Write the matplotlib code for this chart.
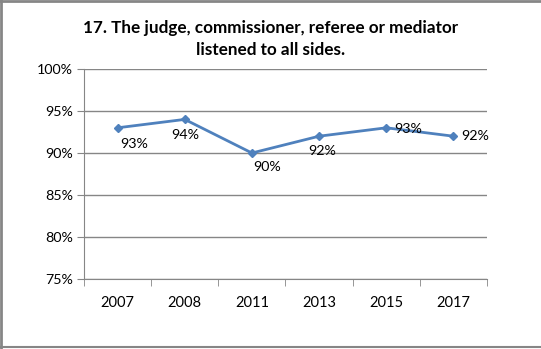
import matplotlib
matplotlib.use("Agg")
import matplotlib.pyplot as plt
from matplotlib.lines import Line2D

years = ["2007", "2008", "2011", "2013", "2015", "2017"]
values = [93, 94, 90, 92, 93, 92]
labels = ["93%", "94%", "90%", "92%", "93%", "92%"]
# label offsets in points (dx, dy)
label_offsets = [(12, -12), (0, -11), (11, -10), (2, -11), (16, -1), (16, 0)]

W, H = 541, 349
fig = plt.figure(figsize=(W / 100, H / 100), dpi=100)
plt.rcParams["font.family"] = ["Lato", "DejaVu Sans"]

left, right, top, bottom = 84, 487, 69, 279
ax = fig.add_axes([left / W, 1 - bottom / H, (right - left) / W, (bottom - top) / H])

x = list(range(len(years)))
line_color = "#4F81BD"
ax.plot(x, values, color=line_color, lw=2, marker="D", ms=4.5, zorder=3)

for xi, v, lab, (dx, dy) in zip(x, values, labels, label_offsets):
    ax.annotate(lab, (xi, v), xytext=(dx, dy), textcoords="offset points",
                ha="center", va="center", fontsize=10.3, color="black", zorder=4)

ax.set_xlim(-0.5, len(years) - 0.5)
ax.set_ylim(75, 100)
ax.set_yticks([75, 80, 85, 90, 95, 100])
ax.set_yticklabels([f"{t}%" for t in [75, 80, 85, 90, 95, 100]])
ax.set_xticks(x)
ax.set_xticklabels(years)
ax.set_xticks([i - 0.5 for i in range(len(years) + 1)], minor=True)

grid_c = "#868686"
ax.grid(axis="y", color=grid_c, lw=1)
ax.set_axisbelow(True)
for s in ["top", "right"]:
    ax.spines[s].set_visible(False)
ax.spines["left"].set_color(grid_c)
ax.spines["bottom"].set_color(grid_c)
ax.tick_params(axis="x", which="major", length=0, pad=12, labelsize=10.5)
ax.tick_params(axis="x", which="minor", length=5, color=grid_c, direction="out")
ax.tick_params(axis="y", length=5, color=grid_c, pad=3, labelsize=10.3)

fig.text(271 / W, 1 - 39 / H, "17. The judge, commissioner, referee or mediator\nlistened to all sides.",
         ha="center", va="center", fontsize=12.3, fontweight="bold", linespacing=1.45)

# chart frame
fig.add_artist(Line2D([0, 1], [1 - 1 / H, 1 - 1 / H], transform=fig.transFigure, color=grid_c, lw=2))
fig.add_artist(Line2D([1 / W, 1 / W], [0, 1], transform=fig.transFigure, color=grid_c, lw=2))
fig.add_artist(Line2D([0, 1], [1 - 347 / H, 1 - 347 / H], transform=fig.transFigure, color=grid_c, lw=1.5))

fig.savefig("out.png", dpi=100)
